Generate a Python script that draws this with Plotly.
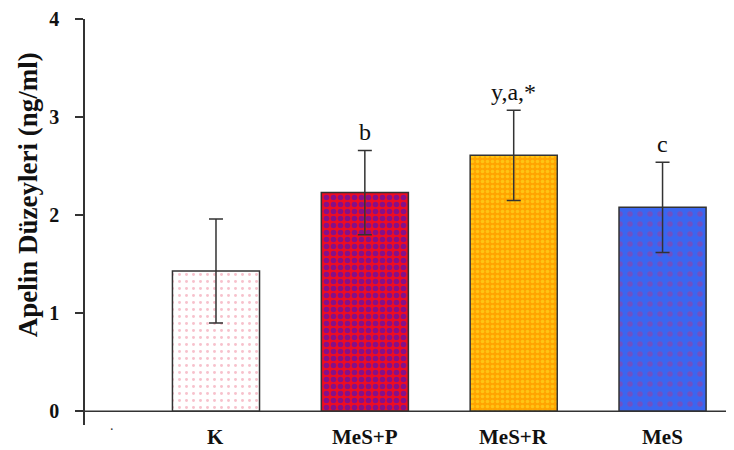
import plotly.graph_objects as go

categories = ["K", "MeS+P", "MeS+R", "MeS"]
means = [1.43, 2.23, 2.61, 2.08]
errors = [0.53, 0.43, 0.46, 0.46]
sig_labels = ["", "b", "y,a,*", "c"]
y_ticks = [0, 1, 2, 3, 4]

bg_colors = ["#ffffff", "#ee0c22", "#ffa400", "#3a66f0"]
fg_colors = ["#f0849a", "#1c14f0", "#ffe428", "#a03c9a"]
pat_sizes = [7, 7, 5, 10]
pat_solid = [0.14, 0.5, 0.4, 0.24]

serif = "Liberation Serif, Times New Roman, serif"

fig = go.Figure()
for c, m, e, bg, fg, ps, so in zip(categories, means, errors, bg_colors, fg_colors, pat_sizes, pat_solid):
    fig.add_trace(go.Bar(
        x=[c], y=[m], width=0.585,
        marker=dict(
            color=bg,
            line=dict(color="#333333", width=1.5),
            pattern=dict(shape=".", fgcolor=fg, bgcolor=bg, size=ps, solidity=so),
        ),
        error_y=dict(type="data", array=[e], visible=True, color="#333333", thickness=1.5, width=7),
        showlegend=False,
    ))

for c, m, e, s in zip(categories, means, errors, sig_labels):
    if s:
        fig.add_annotation(x=c, y=m + e, text=s, showarrow=False, yanchor="bottom",
                           yshift=3, font=dict(family=serif, size=24, color="#111111"))
    fig.add_annotation(x=c, y=0, yref="paper", text="<b>" + c + "</b>", showarrow=False,
                       yanchor="middle", yshift=-12, font=dict(family=serif, size=21, color="#111111"))

fig.add_shape(type="line", xref="paper", yref="y", x0=-0.012, x1=1, y0=0, y1=0,
              line=dict(color="#333333", width=1.5))

fig.add_annotation(xref="paper", yref="paper", x=-0.0878, y=0.566, xanchor="center", yanchor="middle",
                   text="<b>Apelin Düzeyleri (ng/ml)</b>",
                   textangle=-90, showarrow=False, font=dict(family=serif, size=27, color="#111111"))
fig.add_annotation(xref="paper", yref="paper", x=0.035, y=0.0, text=".", showarrow=False,
                   yanchor="middle", font=dict(family=serif, size=14, color="#333333"))

fig.update_layout(
    width=726, height=442,
    margin=dict(l=77, r=0, t=7, b=25),
    plot_bgcolor="white", paper_bgcolor="white",
    barmode="overlay",
    xaxis=dict(type="category", range=[-0.88, 3.48], showline=False, showgrid=False, zeroline=False,
               ticks="", showticklabels=False),
    yaxis=dict(range=[-0.14, 4], tickvals=y_ticks, showline=True, linecolor="#333333", linewidth=1.5,
               ticks="outside", ticklen=8, tickcolor="#333333", tickwidth=1.5, showgrid=False, zeroline=False,
               ticklabelstandoff=12, ticklabeloverflow="allow",
               tickfont=dict(family=serif, size=20, color="#111111", weight="bold")),
)

fig.write_html("out.html")
